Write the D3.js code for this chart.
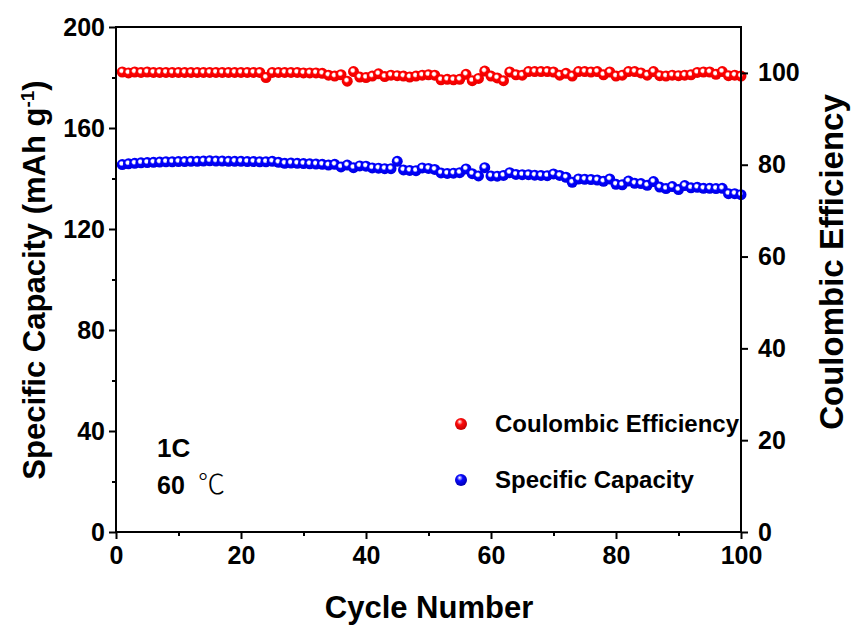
<!DOCTYPE html>
<html><head><meta charset="utf-8">
<script src="https://cdn.jsdelivr.net/npm/d3@7/dist/d3.min.js"></script>
<style>body{margin:0;background:#fff}svg{display:block}text{font-family:"Liberation Sans",Arial,sans-serif;font-weight:bold}</style>
</head><body><svg id="c" width="852" height="628"></svg>
<script>
const cycles = d3.range(1, 101);
const capacity = [145.5,145.8,146.0,146.2,146.3,146.4,146.5,146.6,146.6,146.7,
146.7,146.8,146.8,146.9,147.0,146.9,146.9,146.8,146.8,146.8,
146.7,146.7,146.6,146.6,146.8,146.4,146.0,146.1,146.0,145.9,
145.8,145.7,145.6,145.3,145.6,144.6,145.3,144.3,145.0,144.9,
144.2,144.1,143.9,143.9,146.8,143.4,143.2,143.1,144.2,144.0,
143.6,142.2,142.0,142.1,142.3,143.8,141.9,141.0,144.3,141.0,
140.9,141.2,142.3,141.6,141.5,141.5,141.3,141.2,141.1,141.8,
141.2,140.5,138.5,139.8,139.7,139.6,139.4,138.9,139.8,137.7,
137.5,139.0,138.1,138.0,137.3,138.8,136.6,136.0,136.8,135.6,
137.2,136.3,136.5,136.1,136.1,136.0,136.1,134.0,134.0,133.6];
const efficiency = [100.2,100.0,100.2,100.1,100.2,100.1,100.1,100.1,100.1,100.1,
100.1,100.1,100.1,100.1,100.1,100.1,100.1,100.1,100.1,100.1,
100.1,100.1,100.1,99.0,100.1,100.1,100.1,100.1,100.1,100.0,
100.0,100.0,99.9,99.5,99.3,99.6,98.2,100.3,99.1,99.0,
99.3,99.8,99.2,99.5,99.4,99.3,99.1,99.3,99.5,99.6,
99.5,98.5,98.6,98.5,98.6,99.7,98.3,98.8,100.4,99.3,
98.9,98.3,100.2,99.6,99.5,100.3,100.3,100.3,100.3,100.2,
99.5,99.9,99.3,100.3,100.3,100.2,100.3,99.6,100.2,99.3,
99.5,100.3,100.3,100.0,99.5,100.3,99.4,99.3,99.5,99.4,
99.5,99.6,100.1,100.2,100.2,99.7,100.3,99.4,99.5,99.3];
const xTicks = [0,20,40,60,80,100];
const xMinorTicks = [10,30,50,70,90];
const yLeftTicks = [0,40,80,120,160,200];
const yLeftMinorTicks = [20,60,100,140,180];
const yRightTicks = [0,20,40,60,80,100];
const legendLabels = ["Coulombic Efficiency","Specific Capacity"];
const annotations = ["1C","60","℃"];

const svg = d3.select("#c");
const L = 116, R = 741, T = 27, B = 532;
const x = d3.scaleLinear().domain([0,100]).range([L,R]);
const yL = d3.scaleLinear().domain([0,200]).range([B,T]);
const yR = d3.scaleLinear().domain([0,110]).range([B,T]);

const defs = svg.append("defs");
function grad(id, base, dark){
  const g = defs.append("radialGradient").attr("id",id).attr("cx","45%").attr("cy","42%").attr("r","58%").attr("fx","42%").attr("fy","38%");
  g.append("stop").attr("offset","0%").attr("stop-color","#fff");
  g.append("stop").attr("offset","22%").attr("stop-color","#fff");
  g.append("stop").attr("offset","45%").attr("stop-color",base);
  g.append("stop").attr("offset","100%").attr("stop-color",dark);
}
grad("gr","#ff0000","#e80000");
grad("gb","#0000ff","#0000e0");
function grad2(id, base, dark){
  const g = defs.append("radialGradient").attr("id",id).attr("cx","45%").attr("cy","40%").attr("r","60%").attr("fx","38%").attr("fy","30%");
  g.append("stop").attr("offset","0%").attr("stop-color","#fff");
  g.append("stop").attr("offset","40%").attr("stop-color",base);
  g.append("stop").attr("offset","100%").attr("stop-color",dark);
}
grad2("lr","#ff0a0a","#c00000");
grad2("lb","#0a0aff","#0000b0");

// data
svg.append("g").selectAll("circle").data(cycles).join("circle")
  .attr("cx",d=>x(d)).attr("cy",(d,i)=>yR(efficiency[i])).attr("r",5.5)
  .attr("fill","url(#gr)");
svg.append("g").selectAll("circle").data(cycles).join("circle")
  .attr("cx",d=>x(d)).attr("cy",(d,i)=>yL(capacity[i])).attr("r",5.5)
  .attr("fill","url(#gb)");

// axes
function styleAxis(g){
  g.select(".domain").remove();
  g.selectAll("line").attr("stroke","#000").attr("stroke-width",2);
  g.selectAll("text").attr("font-size",25).attr("fill","#000");
}
svg.append("g").attr("transform",`translate(0,${B})`)
  .call(d3.axisBottom(x).tickValues(xTicks).tickSize(7).tickPadding(7)).call(styleAxis);
svg.append("g").attr("transform",`translate(0,${B})`)
  .call(d3.axisBottom(x).tickValues(xMinorTicks).tickSize(4).tickFormat("")).call(styleAxis);
svg.append("g").attr("transform",`translate(${L},0)`)
  .call(d3.axisLeft(yL).tickValues(yLeftTicks).tickSize(7).tickPadding(4)).call(styleAxis);
svg.append("g").attr("transform",`translate(${L},0)`)
  .call(d3.axisLeft(yL).tickValues(yLeftMinorTicks).tickSize(4).tickFormat("")).call(styleAxis);
svg.append("g").attr("transform",`translate(${R},0)`)
  .call(d3.axisRight(yR).tickValues(yRightTicks).tickSize(7).tickPadding(10)).call(styleAxis);

svg.append("rect").attr("x",L).attr("y",T).attr("width",R-L).attr("height",B-T)
  .attr("fill","none").attr("stroke","#000").attr("stroke-width",2);

// titles
svg.append("text").attr("x",429).attr("y",618).attr("text-anchor","middle").attr("font-size",31).text("Cycle Number");
const lt = svg.append("text").attr("transform",`translate(45,280) rotate(-90)`).attr("text-anchor","middle").attr("font-size",31);
lt.append("tspan").text("Specific Capacity (mAh g");
lt.append("tspan").attr("dy",-11).attr("font-size",19).text("-1");
lt.append("tspan").attr("dy",11).text(")");
svg.append("text").attr("transform",`translate(843,262) rotate(-90)`).attr("text-anchor","middle").attr("font-size",33).text("Coulombic Efficiency");

// annotations
svg.append("text").attr("x",157).attr("y",457).attr("font-size",26).text(annotations[0]);
svg.append("text").attr("x",157).attr("y",494).attr("font-size",25).text(annotations[1]);
svg.append("text").attr("x",198).attr("y",494).attr("font-size",27)
  .style("font-weight","300").style("font-family","'Noto Sans CJK SC'").text(annotations[2]);

// legend
const leg = svg.append("g");
[["lr",424,432],["lb",480,488]].forEach((d,i)=>{
  leg.append("circle").attr("cx",461).attr("cy",d[1]).attr("r",6).attr("fill",`url(#${d[0]})`);
  leg.append("text").attr("x",495).attr("y",d[2]).attr("font-size",24).text(legendLabels[i]);
});
</script></body></html>
